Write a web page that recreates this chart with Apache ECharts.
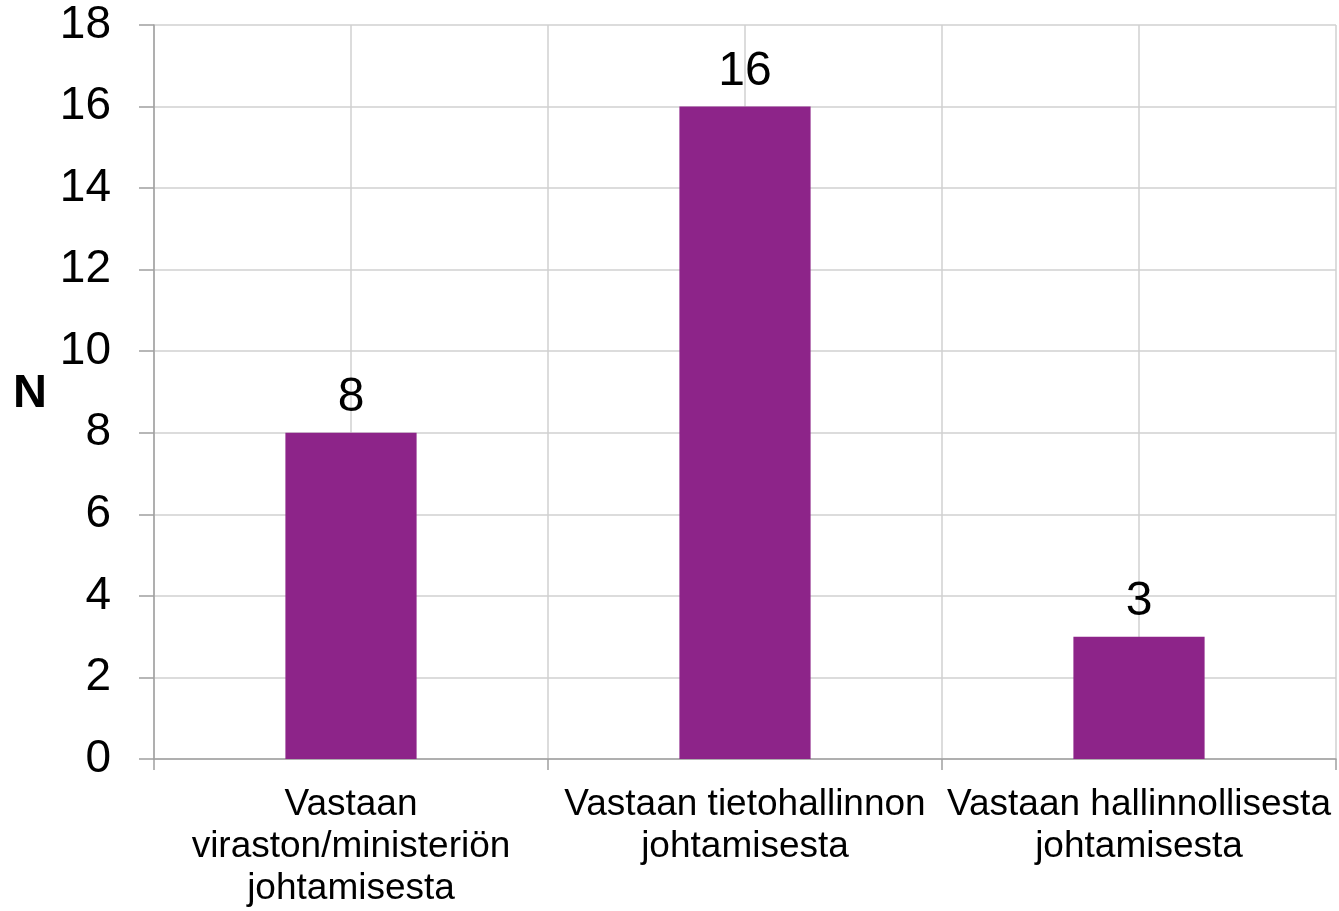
<!DOCTYPE html>
<html>
<head>
<meta charset="utf-8">
<script src="https://cdn.jsdelivr.net/npm/echarts@6/dist/echarts.min.js"></script>
<style>
  html, body { margin: 0; padding: 0; background: #fff; }
  #chart { width: 1339px; height: 911px; }
</style>
</head>
<body>
<div id="chart"></div>
<script>
// Roles: categories and respondent counts
const categories = [
  'Vastaan\nviraston/ministeriön\njohtamisesta',
  'Vastaan tietohallinnon\njohtamisesta',
  'Vastaan hallinnollisesta\njohtamisesta'
];
const counts = [8, 16, 3];
const yTicks = { min: 0, max: 18, interval: 2 };
const yName = 'N';

const FONT = '"Liberation Sans", Arial, sans-serif';
const chart = echarts.init(document.getElementById('chart'), null, { renderer: 'canvas' });

chart.setOption({
  backgroundColor: '#ffffff',
  animation: false,
  grid: { left: 154, right: 3, top: 25, bottom: 152, containLabel: false },
  graphic: [{
    type: 'text',
    left: 13,
    top: 371,
    style: { text: yName, font: 'bold 47px ' + FONT, fill: '#000' }
  }],
  xAxis: [
    {
      type: 'category',
      data: categories,
      axisLine: { lineStyle: { color: '#a0a0a0', width: 1.5 } },
      axisTick: { show: true, length: 11, lineStyle: { color: '#a0a0a0', width: 1.5 } },
      axisLabel: {
        interval: 0,
        margin: 25,
        fontSize: 37,
        lineHeight: 42,
        fontFamily: FONT,
        color: '#000'
      },
      splitLine: { show: false }
    },
    {
      // half-category vertical gridlines (band edges and centres)
      type: 'value',
      min: 0,
      max: categories.length * 2,
      interval: 1,
      show: true,
      position: 'top',
      axisLine: { show: false },
      axisTick: { show: false },
      axisLabel: { show: false },
      splitLine: { show: true, lineStyle: { color: '#d0d0d0', width: 1.5 } }
    }
  ],
  yAxis: {
    type: 'value',
    min: yTicks.min,
    max: yTicks.max,
    interval: yTicks.interval,
    axisLine: { show: true, lineStyle: { color: '#a0a0a0', width: 1.5 } },
    axisTick: { show: true, length: 15, lineStyle: { color: '#a0a0a0', width: 1.5 } },
    axisLabel: {
      margin: 43,
      fontSize: 46,
      fontFamily: FONT,
      color: '#000'
    },
    splitLine: { show: true, lineStyle: { color: '#d0d0d0', width: 1.5 } }
  },
  series: [{
    type: 'bar',
    data: counts,
    xAxisIndex: 0,
    barWidth: '33.3%',
    itemStyle: { color: '#8D2489' },
    label: {
      show: true,
      position: 'top',
      distance: 11,
      fontSize: 48,
      fontFamily: FONT,
      color: '#000'
    }
  }]
});
</script>
</body>
</html>
